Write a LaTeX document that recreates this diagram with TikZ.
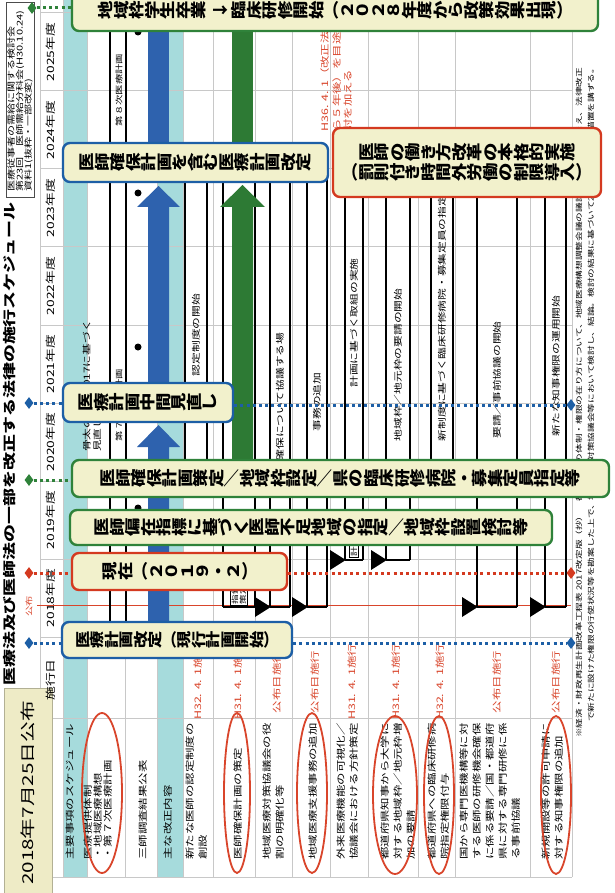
\documentclass[tikz,border=0pt]{standalone}
\usepackage{fontspec}
\setmainfont{Noto Sans CJK JP}[FakeStretch=1.38]
\usepackage{graphicx}
\usetikzlibrary{shapes.geometric}
\definecolor{teal1}{RGB}{166,219,220}
\definecolor{cbox}{RGB}{242,241,204}
\definecolor{cblue}{RGB}{29,95,166}
\definecolor{cgreen}{RGB}{47,130,58}
\definecolor{cred}{RGB}{212,58,32}
\definecolor{ared}{RGB}{217,69,43}
\definecolor{ablue}{RGB}{46,98,174}
\definecolor{agreen}{RGB}{45,122,52}
\definecolor{gridc}{RGB}{200,200,200}
\definecolor{note}{RGB}{238,235,198}
\makeatletter
\newcommand\vtraw[1]{\@tfor\vt@c:=#1\do{\rotatebox[origin=c]{90}{\makebox[1.38em]{\raisebox{0pt}[0.88em][0.12em]{\vt@c}}}}}
\makeatother
\newcommand\vt[1]{\scalebox{1}[0.86]{\vtraw{#1}}}
\newcommand\fs[2]{\fontsize{#1}{#2}\selectfont}
\begin{document}
\begin{tikzpicture}[x=1pt,y=-1pt,
  callout/.style={draw, line width=2.4pt, rounded corners=7pt, fill=cbox, inner sep=0pt, font=\bfseries\fs{15.5}{18}},
  bluebox/.style={callout, draw=cblue},
  greenbox/.style={callout, draw=cgreen},
  redbox/.style={callout, draw=cred},
  dia/.style={diamond, inner sep=0pt, minimum width=9pt, minimum height=12pt},
  bdot/.style={cblue, line width=3pt, dash pattern=on 3pt off 3.2pt},
  gdot/.style={cgreen, line width=3pt, dash pattern=on 3pt off 3.2pt},
  rdot/.style={cred, line width=3pt, dash pattern=on 3pt off 3.2pt},
  rt/.style={rotate=90, inner sep=0pt},
  lbl/.style={rt, anchor=west, align=left, font=\fs{9}{13}},
  sk/.style={rt, font=\fs{9}{11}, text=ared},
  bt/.style={rt, font=\fs{8.5}{10}},
  gridl/.style={gridc, line width=0.5pt},
  barl/.style={line width=1.5pt},
  ell/.style={ared, line width=1.8pt}]
\useasboundingbox (0,0) rectangle (614,893);
\fill[white] (0,0) rectangle (614,893);

% bands and grid
\fill[teal1] (63,0) rectangle (87,877);
\fill[teal1] (157,0) rectangle (183,877);
\foreach \yy in {12,90,168,246,325,403,481,559,637,718} \draw[gridl] (40,\yy) -- (572,\yy);
\foreach \xx in {40,63,87,125,157,183,213,255,292,330,368,418,455,530,572} \draw[gridl] (\xx,0) -- (\xx,877);
\draw[gridl] (40,877) -- (572,877);

% source box and title
\node[draw=black!70, line width=0.6pt, minimum width=28pt, minimum height=195pt, inner sep=0pt] (src) at (20,99.5) {};
\node[rt, anchor=west, align=left, font=\fs{8}{8.5}] (srct) at (20,192) {医療従事者の需給に関する検討会\\第23回　医師需給分科会(H30.10.24)\\資料1(抜粋・一部改変)};
\node[rt, anchor=west, font=\bfseries\fs{13}{15}] (title) at (10,686) {医療法及び医師法の一部を改正する法律の施行スケジュール};
\node[rt, fill=note, draw=note!75!black, line width=0.5pt, minimum width=210pt, minimum height=48pt, font=\fs{15}{17}] (sticky) at (28,793) {2018年7月25日公布};

% header
\foreach \yr/\yc in {2018/598,2019/520,2020/442,2021/364,2022/286,2023/208,2024/130,2025/52}
  \node[rt, font=\fs{10}{12}] (y\yr) at (51,\yc) {\yr 年度};
\node[rt, font=\fs{10}{12}] (shd) at (51,680) {施行日};
\node[rt, font=\fs{7.5}{9}, text=ared] (kf) at (29,606) {公布};
\draw[ared, line width=0.7pt] (37,605) -- (571,605);

% row labels
\node[lbl] (l0) at (70,860) {主要事項のスケジュール};
\node[lbl, font=\fs{9}{10.2}] (l1) at (98,860) {医療提供体制\\・地域医療構想\\・第７次医療計画};
\node[lbl] (l2) at (143,860) {三師調査結果公表};
\node[lbl] (l3) at (168,860) {主な改正内容};
\node[lbl] (l4) at (197,860) {新たな医師の認定制度の\\創設};
\node[lbl] (l5) at (238,860) {医師確保計画の策定};
\node[lbl] (l6) at (274,860) {地域医療対策協議会の役\\割の明確化等};
\node[lbl] (l7) at (313,860) {地域医療支援事務の追加};
\node[lbl] (l8) at (348,860) {外来医療機能の可視化／\\協議会における方針策定};
\node[lbl] (l9) at (398,860) {都道府県知事から大学に\\対する地域枠／地元枠増\\加の要請};
\node[lbl] (l10) at (439,860) {都道府県への臨床研修病\\院指定権限付与};
\node[lbl] (l11) at (490,860) {国から専門医機構等に対\\する医師の研修機会確保\\に係る要請／国・都道府\\県に対する専門研修に係\\る事前協議};
\node[lbl] (l12) at (553,860) {新規開設等の許可申請に\\対する知事権限の追加};

% ellipses
\draw[ell] (102,793) ellipse [x radius=20pt, y radius=80pt];
\draw[ell] (237,793) ellipse [x radius=13pt, y radius=80pt];
\draw[ell] (312,793) ellipse [x radius=15pt, y radius=80pt];
\draw[ell] (395,795) ellipse [x radius=22pt, y radius=79pt];
\draw[ell] (439,795) ellipse [x radius=15pt, y radius=79pt];
\draw[ell] (556,795) ellipse [x radius=15pt, y radius=79pt];

% dates
\node[sk] (s4) at (198,682) {H32. 4. 1施行};
\node[sk] (s5) at (238,682) {H31. 4. 1施行};
\node[sk] (s6) at (277,682) {公布日施行};
\node[sk] (s7) at (315,682) {公布日施行};
\node[sk] (s8) at (352,682) {H31. 4. 1施行};
\node[sk] (s9) at (396,682) {H31. 4. 1施行};
\node[sk] (s10) at (440,682) {H32. 4. 1施行};
\node[sk] (s11) at (497,682) {公布日施行};
\node[sk] (s12) at (556,682) {公布日施行};

% footer
\node[rt, anchor=west, font=\fs{7}{9}] (ft1) at (579,738) {※経済・財政再生計画改革工程表 2017改定版（抄）　都道府県の体制・権限の在り方について、地域医療構想調整会議の議論の状況等を踏まえ、法律改正};
\node[rt, anchor=west, font=\fs{7}{9}] (ft2) at (591,722) {で新たに設けた権限の行使状況等を勘案した上で、地域医療対策協議会等において検討し、結論。検討の結果に基づいて2020年央までに措置を講ずる。};

% gantt bars
\draw[barl] (110,637) -- (110,30);
\draw[barl] (126,637) -- (126,30);
\draw[barl] (110,637) -- (126,637);
\draw[barl] (223,607) -- (223,175);
\draw[barl] (255,607) -- (255,175);
\draw[barl] (223,607) -- (255,607);
\foreach \xl/\xr/\ys in {185/207/481, 270/290/607, 307/327/607, 345/363/560, 386/410/560, 431/453/481, 477/517/607, 545/566/607}{
  \draw[barl] (\xl,\ys) -- (\xl,175);
  \draw[barl] (\xr,\ys) -- (\xr,175);
  \draw[line width=2.6pt] (\xl,\ys) -- (\xr,\ys);
  \fill (\xl-15,\ys-10) -- (\xl+0.8,\ys) -- (\xl-15,\ys+10) -- cycle;
}
\node[rt, draw, fill=white, line width=0.6pt, anchor=west, align=left, font=\fs{7}{8}, inner sep=1.5pt] (shishin) at (239,606) {指針\\策定};
\node[rt, draw, fill=white, line width=0.6pt, anchor=west, font=\fs{7}{8}, inner sep=1.5pt] (keikaku) at (354,558) {計画策定};

% bar texts
\node[rt, font=\fs{7.5}{9}] (d8) at (119,90) {第８次医療計画};
\node[rt, font=\fs{7.5}{9}] (d7) at (119,405) {第７次医療計画};
\node[rt, anchor=west, align=left, font=\fs{8.5}{10.5}] (hone) at (92,452) {骨太の方針2017に基づく\\見直し（※）};
\node[bt] (t4) at (196,335) {認定制度の開始};
\node[bt, anchor=west] (t6) at (280,485) {医師確保について協議する場};
\node[bt] (t7) at (317,402) {事務の追加};
\node[bt] (t8) at (354,323) {計画に基づく取組の実施};
\node[bt] (t9) at (398,365) {地域枠／地元枠の要請の開始};
\node[bt] (t10) at (442,318) {新制度に基づく臨床研修病院・募集定員の指定};
\node[bt] (t11) at (497,380) {要請／事前協議の開始};
\node[bt] (t12) at (556,366) {新たな知事権限の運用開始};
\node[rt, anchor=west, align=left, font=\fs{9}{11.5}, text=ared] (h36) at (337,132) {H36. 4. 1（改正法の施行か\\ら５年後）を目途に検\\討を加える};

% survey dots
\foreach \yy in {32,193,347,508} \fill (138,\yy) circle[radius=3.5pt];

% arrows
\fill[ablue] (148,30) rectangle (169,143);
\fill[ablue] (148,383) -- (148,207) -- (137,207) -- (158.5,186) -- (180,207) -- (169,207) -- (169,383) -- cycle;
\fill[ablue] (148,622) -- (148,447) -- (137,447) -- (158.5,425) -- (180,447) -- (169,447) -- (169,622) -- cycle;
\fill[agreen] (232,30) rectangle (253,143);
\fill[agreen] (232,460) -- (232,207) -- (220,207) -- (242.5,185) -- (265,207) -- (253,207) -- (253,460) -- cycle;

% diamonds
\node[dia, fill=cblue] (dB1l) at (29,643) {};
\node[dia, fill=cblue] (dB1r) at (571,643) {};
\node[dia, fill=cred] (dRl) at (29,573) {};
\node[dia, fill=cred] (dRr) at (571,573) {};
\node[dia, fill=cgreen] (dG4) at (29,480) {};
\node[dia, fill=cblue] (dB5l) at (29,403) {};
\node[dia, fill=cblue] (dB5r) at (571,405) {};
\node[dia, fill=cgreen] (dG8) at (32,8) {};

% callouts
\node[bluebox, minimum width=230pt, minimum height=36pt, font=\bfseries\fs{14.5}{17}] (b1) at (177,640) {\vt{医療計画改定︵現行計画開始︶}};
\node[redbox, minimum width=215pt, minimum height=37pt] (b2) at (179.5,571.5) {\vt{現在︵２０１９・２︶}};
\node[greenbox, minimum width=482pt, minimum height=35pt] (b3) at (311,527.5) {\vt{医師偏在指標に基づく医師不足地域の指定＼地域枠設置検討等}};
\node[greenbox, minimum width=537pt, minimum height=37pt] (b4) at (340.5,478.5) {\vt{医師確保計画策定＼地域枠設定＼県の臨床研修病院・募集定員指定等}};
\node[bluebox, minimum width=170pt, minimum height=39pt] (b5) at (148,402.5) {\vt{医療計画中間見直し}};
\node[bluebox, minimum width=265pt, minimum height=39pt] (b6) at (195.5,162.5) {\vt{医師確保計画を含む医療計画改定}};
\node[redbox, minimum width=268pt, minimum height=69pt, align=center] (b7) at (467,162.5) {\vt{医師の働き方改革の本格的実施}\\[1pt]\vt{︵罰則付き時間外労働の制限導入︶}};
\node[greenbox, minimum width=526pt, minimum height=41pt] (b8) at (335,10.5) {\vt{地域枠学生卒業}\hspace{6pt}\vt{↓}\hspace{3pt}\vt{臨床研修開始︵２０２８年度から政策効果出現︶}};

% dotted connectors
\draw[bdot] (dB1l) -- (dB1l -| b1.west);
\draw[bdot] (dB1r -| b1.east) -- (dB1r);
\draw[rdot] (dRl) -- (dRl -| b2.west);
\draw[rdot] (dRr -| b2.east) -- (dRr);
\draw[gdot] (dG4) -- (dG4 -| b4.west);
\draw[bdot] (dB5l) -- (dB5l -| b5.west);
\draw[bdot] (dB5r -| b5.east) -- (dB5r);
\draw[gdot] (dG8) -- (dG8 -| b8.west);
\end{tikzpicture}
\end{document}
